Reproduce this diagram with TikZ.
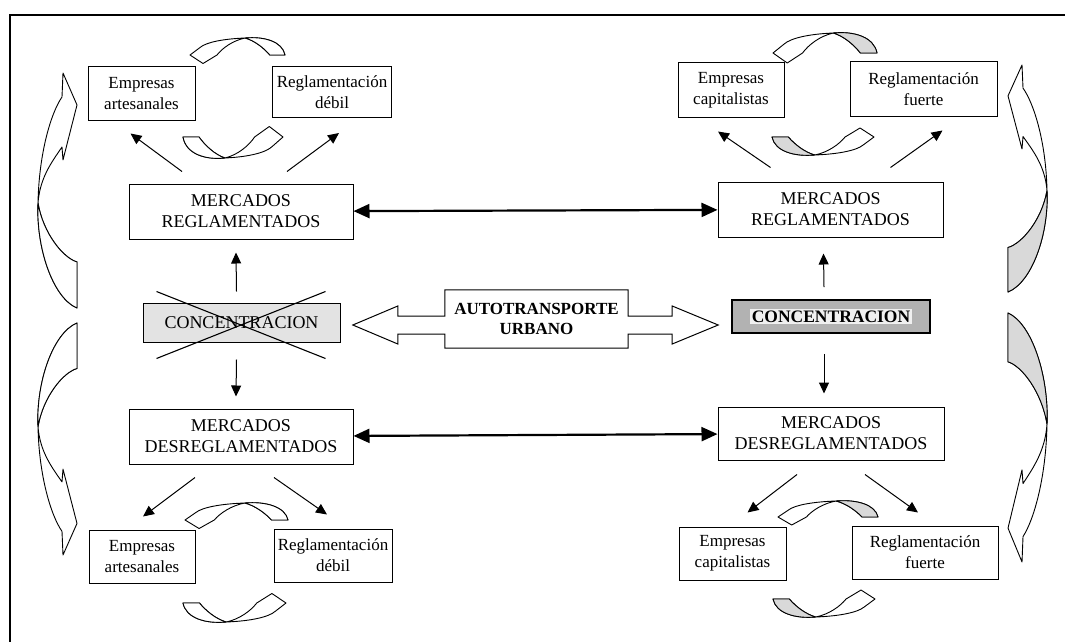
\documentclass[tikz,border=0pt]{standalone}
\usepackage{fontspec}
\setmainfont{Liberation Serif}
\usepackage{tikz}
\usetikzlibrary{calc,positioning,arrows.meta}
\setlength{\fboxsep}{1.5pt}

\begin{document}
\begin{tikzpicture}[x=1pt, y=-1pt,
  every node/.style={font=\fontsize{17}{21}\selectfont, align=center, inner sep=2pt},
  box/.style={draw, line width=1pt, fill=white},
  market/.style={box, font=\fontsize{18}{21}\selectfont},
  thinarr/.style={-{Triangle[length=11pt,width=10pt]}, line width=1pt},
  thickarr/.style={{Triangle[length=16pt,width=14pt]}-{Triangle[length=16pt,width=14pt]}, line width=2.2pt},
  pics/sidearrow/.style={code={
    \path[draw, fill=white, line width=0.9pt, line join=round] (0,0) -- (0.136,-0.56) -- (0.370,0) -- (0.315,0.04)
      .. controls (0.383,0.48) and (0.447,0.92) .. (0.553,1)
      .. controls (0.681,0.8) and (0.787,0) .. (0.804,-0.56) -- (1,-0.56)
      .. controls (0.957,0.4) and (0.745,1.08) .. (0.553,1)
      .. controls (0.340,0.96) and (0.170,0.48) .. (0.102,0.04) -- cycle;
    \path[draw, fill=#1, line width=0.9pt, line join=round] (0.553,1)
      .. controls (0.681,0.8) and (0.787,0) .. (0.804,-0.56) -- (1,-0.56)
      .. controls (0.957,0.4) and (0.745,1.08) .. (0.553,1) -- cycle;
  }},
  pics/looparrow/.style={code={
    \path[draw, fill=white, line width=0.9pt, line join=round] (0,0) -- (0.137,-0.5) -- (0.284,0)
      .. controls (0.34,0.4) and (0.45,0.85) .. (0.58,1)
      .. controls (0.68,0.85) and (0.78,0.4) .. (0.84,0) -- (1,0)
      .. controls (0.97,0.8) and (0.78,1.1) .. (0.58,1)
      .. controls (0.35,0.95) and (0.17,0.75) .. (0.105,0.44) -- cycle;
    \path[draw, fill=#1, line width=0.9pt, line join=round] (0.58,1)
      .. controls (0.68,0.85) and (0.78,0.4) .. (0.84,0) -- (1,0)
      .. controls (0.97,0.8) and (0.78,1.1) .. (0.58,1) -- cycle;
  }}]
  \useasboundingbox (0,0) rectangle (1065,642);

  % frame
  \draw[line width=1.2pt] (1065,15) -- (10,15) -- (10,642);

  % left side: artesanal firms, weak regulation
  \node[box, minimum width=107pt, minimum height=53pt] (E1) at (141.5,93.5) {Empresas\\artesanales};
  \node[box, minimum width=119pt, minimum height=51pt] (R1) at (332,92) {Reglamentación\\débil};
  \node[market, minimum width=224pt, minimum height=55pt] (M1) at (241,211.5) {MERCADOS\\REGLAMENTADOS};
  \node[box, fill=gray!22, minimum width=197pt, minimum height=39pt, font=\fontsize{18}{21}\selectfont] (C1) at (241.5,322.5) {CONCENTRACION};
  \node[market, minimum width=224pt, minimum height=55pt] (D1) at (241,436.5) {MERCADOS\\DESREGLAMENTADOS};
  \node[box, minimum width=106pt, minimum height=53pt] (E2) at (142,556.5) {Empresas\\artesanales};
  \node[box, minimum width=118pt, minimum height=53pt] (R2) at (333,555.5) {Reglamentación\\débil};

  % right side: capitalist firms, strong regulation
  \node[box, minimum width=106pt, minimum height=54pt] (E3) at (731,90) {Empresas\\capitalistas};
  \node[box, minimum width=147pt, minimum height=54pt] (R3) at (923.5,89) {Reglamentación\\fuerte};
  \node[market, minimum width=225pt, minimum height=55pt] (M2) at (830.5,209.5) {MERCADOS\\REGLAMENTADOS};
  \node[box, fill=gray!60, line width=1.8pt, minimum width=198pt, minimum height=33pt, font=\fontsize{17.5}{19}\selectfont\bfseries] (C2) at (831,316.5) {\colorbox{gray!12}{CONCENTRACION}};
  \node[market, minimum width=226pt, minimum height=53pt] (D2) at (831,433.5) {MERCADOS\\DESREGLAMENTADOS};
  \node[box, minimum width=107pt, minimum height=53pt] (E4) at (732.5,553.5) {Empresas\\capitalistas};
  \node[box, minimum width=146pt, minimum height=53pt] (R4) at (925,552.5) {Reglamentación\\fuerte};

  % centre block arrow
  \node[minimum width=183pt, minimum height=58pt, font=\fontsize{17}{20}\selectfont\bfseries] (A) at (536.5,319) {AUTOTRANSPORTE\\URBANO};
  \draw[line width=1pt] (A.north west) -- (A.north east) -- ($(A.east)+(0,-3)$) -- ++(44,0) -- ++(0,-10)
    -- ++(46,19) -- ++(-46,19) -- ++(0,-10) -- ++(-44,0) -- (A.south east) -- (A.south west)
    -- ($(A.west)+(0,15)$) -- ++(-47,0) -- ++(0,10) -- ++(-45,-19) -- ++(45,-19) -- ++(0,10) -- ++(47,0) -- cycle;

  % crossed out concentration
  \draw[line width=1.1pt] ([xshift=14pt,yshift=11pt]C1.north west) -- ([xshift=-15pt,yshift=-16pt]C1.south east);
  \draw[line width=1.1pt] ([xshift=14pt,yshift=-16pt]C1.south west) -- ([xshift=-15pt,yshift=11pt]C1.north east);

  % market links
  \draw[thickarr] (M1) -- (M2);
  \draw[thickarr] (D1) -- (D2);

  \draw[thinarr] ([xshift=-5pt,yshift=11pt]C1.north) -- ([xshift=-5pt,yshift=-13pt]M1.south);
  \draw[thinarr] ([xshift=-5pt,yshift=-17pt]C1.south) -- ([xshift=-5pt,yshift=12pt]D1.north);
  \draw[thinarr] ([xshift=-7pt,yshift=12pt]C2.north) -- ([xshift=-7pt,yshift=-16pt]M2.south);
  \draw[thinarr] ([xshift=-7pt,yshift=-20pt]C2.south) -- ([xshift=-7pt,yshift=13pt]D2.north);

  \draw[thinarr] ([xshift=-59pt,yshift=12pt]M1.north) -- ([xshift=-11pt,yshift=-13pt]E1.south);
  \draw[thinarr] ([xshift=46pt,yshift=12pt]M1.north) -- ([xshift=7pt,yshift=-15pt]R1.south);
  \draw[thinarr] ([xshift=-46pt,yshift=-13pt]D1.south) -- ([xshift=1pt,yshift=13pt]E2.north);
  \draw[thinarr] ([xshift=33pt,yshift=-13pt]D1.south) -- ([xshift=-6pt,yshift=14pt]R2.north);
  \draw[thinarr] ([xshift=-60pt,yshift=14pt]M2.north) -- ([xshift=-13pt,yshift=-14pt]E3.south);
  \draw[thinarr] ([xshift=60pt,yshift=14pt]M2.north) -- ([xshift=19pt,yshift=-14pt]R3.south);
  \draw[thinarr] ([xshift=-34pt,yshift=-14pt]D2.south) -- ([xshift=15pt,yshift=14pt]E4.north);
  \draw[thinarr] ([xshift=34pt,yshift=-14pt]D2.south) -- ([xshift=-7pt,yshift=13pt]R4.north);

  % curved block arrows
  \coordinate (S1) at (63,73);
  \coordinate (S2) at (63,555);
  \coordinate (S3) at (1022,65);
  \coordinate (S4) at (1022,562);
  \pic[x={(0pt,-235pt)}, y={(-25pt,0pt)}] at (S1) {sidearrow=white};
  \pic[x={(0pt,232pt)}, y={(-25pt,0pt)}] at (S2) {sidearrow=white};
  \pic[x={(0pt,-227pt)}, y={(25pt,0pt)}] at (S3) {sidearrow=gray!30};
  \pic[x={(0pt,249pt)}, y={(25pt,0pt)}] at (S4) {sidearrow=gray!30};

  \coordinate (L1) at (190,55);
  \coordinate (L2) at (283,137);
  \coordinate (L3) at (185,520);
  \coordinate (L4) at (286,603);
  \coordinate (L5) at (773,53);
  \coordinate (L6) at (874,137);
  \coordinate (L7) at (778,517);
  \coordinate (L8) at (875,599);
  \pic[x={(95pt,0pt)}, y={(0pt,17pt)}] at (L1) {looparrow=white};
  \pic[x={(-100pt,0pt)}, y={(0pt,-21pt)}] at (L2) {looparrow=white};
  \pic[x={(103pt,0pt)}, y={(0pt,17pt)}] at (L3) {looparrow=white};
  \pic[x={(-103pt,0pt)}, y={(0pt,-19pt)}] at (L4) {looparrow=white};
  \pic[x={(104pt,0pt)}, y={(0pt,20pt)}] at (L5) {looparrow=gray!30};
  \pic[x={(-102pt,0pt)}, y={(0pt,-18pt)}] at (L6) {looparrow=gray!30};
  \pic[x={(100pt,0pt)}, y={(0pt,16pt)}] at (L7) {looparrow=gray!30};
  \pic[x={(-102pt,0pt)}, y={(0pt,-18pt)}] at (L8) {looparrow=gray!30};
\end{tikzpicture}
\end{document}
